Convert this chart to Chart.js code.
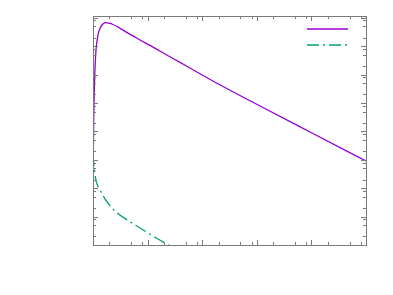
<!DOCTYPE html>
<html>
<head>
<meta charset="utf-8">
<script src="https://cdn.jsdelivr.net/npm/chart.js@4/dist/chart.umd.min.js"></script>
<style>
  html, body { margin: 0; padding: 0; background: #fff; }
  #wrap { width: 393px; height: 295px; position: relative; }
</style>
</head>
<body>
<div id="wrap"><canvas id="ch"></canvas></div>
<script>
// Series (log-log)
const purpleX = [1.0085, 1.021, 1.034, 1.056, 1.079, 1.111, 1.149, 1.209, 1.288, 1.401, 1.557, 1.730, 1.963, 2.324, 2.870, 3.544, 4.375, 5.403, 7.26, 11.07, 20.83, 39.2, 91.1, 186.6, 1145, 9420, 100000];
const purpleY = [9.08e-6, 4.98e-5, 4.10e-4, 2.87e-3, 0.0105, 0.0385, 0.0938, 0.1945, 0.343, 0.494, 0.630, 0.667, 0.640, 0.577, 0.467, 0.366, 0.287, 0.229, 0.165, 0.106, 0.0531, 0.0267, 0.01067, 4.94e-3, 7.83e-4, 9.53e-5, 9.08e-6];
const greenX = [1.0085, 1.021, 1.065, 1.111, 1.184, 1.343, 1.782, 2.717, 4.76, 8.34, 14.68, 28.0];
const greenY = [1.60e-5, 9.84e-6, 4.37e-6, 2.29e-6, 1.41e-6, 8.65e-7, 3.40e-7, 1.39e-7, 6.61e-8, 3.37e-8, 1.72e-8, 8.5e-9];

// Axis ranges and tick layout
const xRange = [1, 1e5];
const yRange = [1e-8, 1.15];
const xDecades = [1, 10, 100, 1000, 10000, 100000];
const yDecades = [1e-8, 1e-7, 1e-6, 1e-5, 1e-4, 1e-3, 1e-2, 1e-1, 1];
const minorMantissas = [2, 5, 8];

const pts = (xs, ys) => xs.map((x, i) => ({x, y: ys[i]}));

// frame, inward ticks on all four sides, and the legend samples
const framePlugin = {
  id: 'frame',
  afterDatasetsDraw(chart) {
    const {ctx, chartArea: a, scales} = chart;
    ctx.save();
    ctx.strokeStyle = '#7a7a7a';
    ctx.lineWidth = 1;
    const tick = (x1, y1, x2, y2) => { ctx.beginPath(); ctx.moveTo(x1, y1); ctx.lineTo(x2, y2); ctx.stroke(); };
    const inX = v => v >= xRange[0] && v <= xRange[1];
    const inY = v => v >= yRange[0] && v <= yRange[1];
    xDecades.forEach(d => {
      const px = Math.round(scales.x.getPixelForValue(d)) + 0.5;
      tick(px, a.bottom, px, a.bottom - 5);
      tick(px, a.top, px, a.top + 5);
      minorMantissas.forEach(m => {
        if (!inX(d * m)) return;
        const p = Math.round(scales.x.getPixelForValue(d * m)) + 0.5;
        tick(p, a.bottom, p, a.bottom - 3);
        tick(p, a.top, p, a.top + 3);
      });
    });
    yDecades.forEach(d => {
      const py = Math.round(scales.y.getPixelForValue(d)) + 0.5;
      tick(a.left, py, a.left + 5, py);
      tick(a.right, py, a.right - 5, py);
      minorMantissas.forEach(m => {
        if (!inY(d * m)) return;
        const p = Math.round(scales.y.getPixelForValue(d * m)) + 0.5;
        tick(a.left, p, a.left + 3, p);
        tick(a.right, p, a.right - 3, p);
      });
    });
    ctx.strokeRect(Math.round(a.left) + 0.5, Math.round(a.top) + 0.5, Math.round(a.right - a.left), Math.round(a.bottom - a.top));

    // legend samples (no label text)
    chart.data.datasets.forEach((ds, i) => {
      const y = 29 + i * 16;
      ctx.strokeStyle = ds.borderColor;
      ctx.lineWidth = ds.borderWidth;
      ctx.setLineDash(ds.borderDash || []);
      tick(307, y, 348, y);
    });
    ctx.restore();
  }
};

new Chart(document.getElementById('ch'), {
  type: 'line',
  data: {
    datasets: [
      {label: '', data: pts(purpleX, purpleY), borderColor: '#9400d3', borderWidth: 1.3,
       pointRadius: 0, cubicInterpolationMode: 'monotone', fill: false},
      {label: '', data: pts(greenX, greenY), borderColor: '#009e73', borderWidth: 1.3,
       borderDash: [12, 4, 2, 4], pointRadius: 0, cubicInterpolationMode: 'monotone', fill: false},
    ]
  },
  options: {
    responsive: true, maintainAspectRatio: false, animation: false,
    layout: {padding: {left: 93, right: 27, top: 16, bottom: 50}},
    plugins: {legend: {display: false}, tooltip: {enabled: false}},
    scales: {
      x: {type: 'logarithmic', min: xRange[0], max: xRange[1], display: false},
      y: {type: 'logarithmic', min: yRange[0], max: yRange[1], display: false}
    }
  },
  plugins: [framePlugin]
});
</script>
</body>
</html>
